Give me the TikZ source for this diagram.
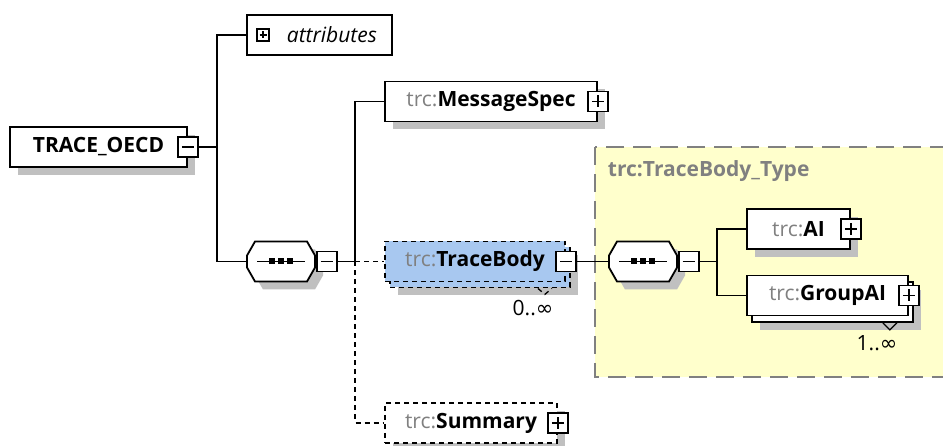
\documentclass[tikz,border=0pt]{standalone}
\usepackage{fontspec}
\setmainfont{Open Sans}
\newfontfamily\symfont{DejaVu Sans}
\usepackage{xcolor}
\usepackage{tikz}
\usetikzlibrary{shadows}
\definecolor{shadowgray}{RGB}{192,192,192}
\definecolor{bodyblue}{RGB}{168,200,240}
\definecolor{typeyellow}{RGB}{255,255,204}
\definecolor{pfxgray}{RGB}{128,128,128}

\begin{document}
\begin{tikzpicture}[x=1pt, y=-1pt, line width=1.8pt,
    every node/.style={font=\fontsize{21}{25}\selectfont},
    elem/.style={draw, fill=white, inner sep=0pt, minimum height=40pt},
    shadowed/.style={drop shadow={shadow xshift=8pt, shadow yshift=-8pt, fill=shadowgray, opacity=1}},
    optional/.style={dash pattern=on 5pt off 4pt},
    typebox/.style={draw=pfxgray, line width=2pt, fill=typeyellow, dash pattern=on 18pt off 9pt},
    btn/.style={draw, fill=white, inner sep=0pt, minimum size=20pt, line width=1.6pt},
    plusbtn/.style={btn, path picture={
      \draw[line width=1.6pt] ([xshift=#1]path picture bounding box.west) -- ([xshift=-#1]path picture bounding box.east);
      \draw[line width=1.6pt] ([yshift=-#1]path picture bounding box.north) -- ([yshift=#1]path picture bounding box.south);}},
    plusbtn/.default=4pt,
    minusbtn/.style={btn, path picture={
      \draw[line width=1.6pt] ([xshift=4pt]path picture bounding box.west) -- ([xshift=-4pt]path picture bounding box.east);}}
  ]
    \useasboundingbox (0,0) rectangle (943,446);

    % complex type of TraceBody
    \draw[typebox] (595,147) rectangle (960,377);
    \node[anchor=west, inner sep=0pt, text=pfxgray, font=\fontsize{21}{25}\selectfont\bfseries] (type-lbl) at (607,171) {trc:TraceBody\_Type};

    % sequence compositors
    \foreach \n/\cx in {seqA/281, seqB/643} {
      \begin{scope}[shift={(\cx,261.5)}]
        \draw[fill=white, shadowed] (-34,-6) -- (-26,-20) -- (26,-20) -- (34,-6) -- (34,6) -- (26,20) -- (-26,20) -- (-34,6) -- cycle;
        \draw (-24,0) -- (24,0);
        \foreach \d in {-9,0,9} \fill (\d-3,-3) rectangle (\d+3,3);
        \node[inner sep=0pt, minimum width=68pt, minimum height=40pt] (\n) at (0,0) {};
        \node[minusbtn, anchor=west] (\n-btn) at (\n.east) {};
      \end{scope}
    }

    % root element
    \node[elem, shadowed, minimum width=177pt] (oecd) at (98.5,147) {\textbf{TRACE\_OECD}};
    \node[minusbtn] (oecd-btn) at (oecd.east) {};

    % attributes
    \node[elem, minimum width=145pt] (attr) at (319.5,35) {};
    \node[plusbtn=2.5pt, minimum size=12pt, line width=1.3pt] (attr-btn) at (263,35) {};
    \node[anchor=west, inner sep=0pt, font=\fontsize{21}{25}\selectfont\itshape] (attr-txt) at (286,35) {attributes};

    % children of the first sequence
    \node[elem, shadowed, minimum width=212pt] (msg) at (491,101.5) {{\color{pfxgray}trc:}\textbf{MessageSpec}};
    \node[plusbtn] (msg-btn) at (msg.east) {};

    \node[elem, optional, fill=bodyblue, shadowed, minimum width=180pt] (tb-back) at (480,267.5) {};
    \node[elem, optional, fill=bodyblue, minimum width=180pt] (tb) at (475,261.5) {{\color{pfxgray}trc:}\textbf{TraceBody}};
    \node[minusbtn] (tb-btn) at (tb.east) {};
    \draw[optional, line width=1.3pt] ([xshift=-33pt]tb-back.south east) -- ++(7,6) -- ++(7,-6);
    \node (tb-occ) at (533,308) {0..{\symfont ∞}};

    \node[elem, optional, shadowed, minimum width=172pt] (sum) at (471,423) {{\color{pfxgray}trc:}\textbf{Summary}};
    \node[plusbtn] (sum-btn) at (sum.east) {};

    % children of the second sequence
    \node[elem, shadowed, minimum width=103pt] (ai) at (798.5,229) {{\color{pfxgray}trc:}\textbf{AI}};
    \node[plusbtn] (ai-btn) at (ai.east) {};

    \node[elem, shadowed, minimum width=161pt] (gai-back) at (832.5,302) {};
    \node[elem, minimum width=161pt] (gai) at (827.5,295.5) {{\color{pfxgray}trc:}\textbf{GroupAI}};
    \node[plusbtn] (gai-btn) at (gai.east) {};
    \draw[line width=1.3pt] ([xshift=-31pt]gai-back.south east) -- ++(7,7) -- ++(7,-7);
    \node (gai-occ) at (877,343) {1..{\symfont ∞}};

    % connectors
    \coordinate (fork1) at (217,147);
    \coordinate (fork2) at (355,261.5);
    \coordinate (fork3) at (717,261.5);
    \draw (oecd-btn.east) -- (fork1);
    \draw (attr.west) -| (fork1) |- (seqA.west);
    \draw (seqA-btn.east) -- (fork2);
    \draw (msg.west) -| (fork2);
    \draw[optional] (fork2) -- (tb.west);
    \draw[optional] (fork2) |- (sum.west);
    \draw (tb-btn.east) -- (seqB.west);
    \draw (seqB-btn.east) -- (fork3);
    \draw (ai.west) -| (fork3) |- (gai.west);
  \end{tikzpicture}
\end{document}
